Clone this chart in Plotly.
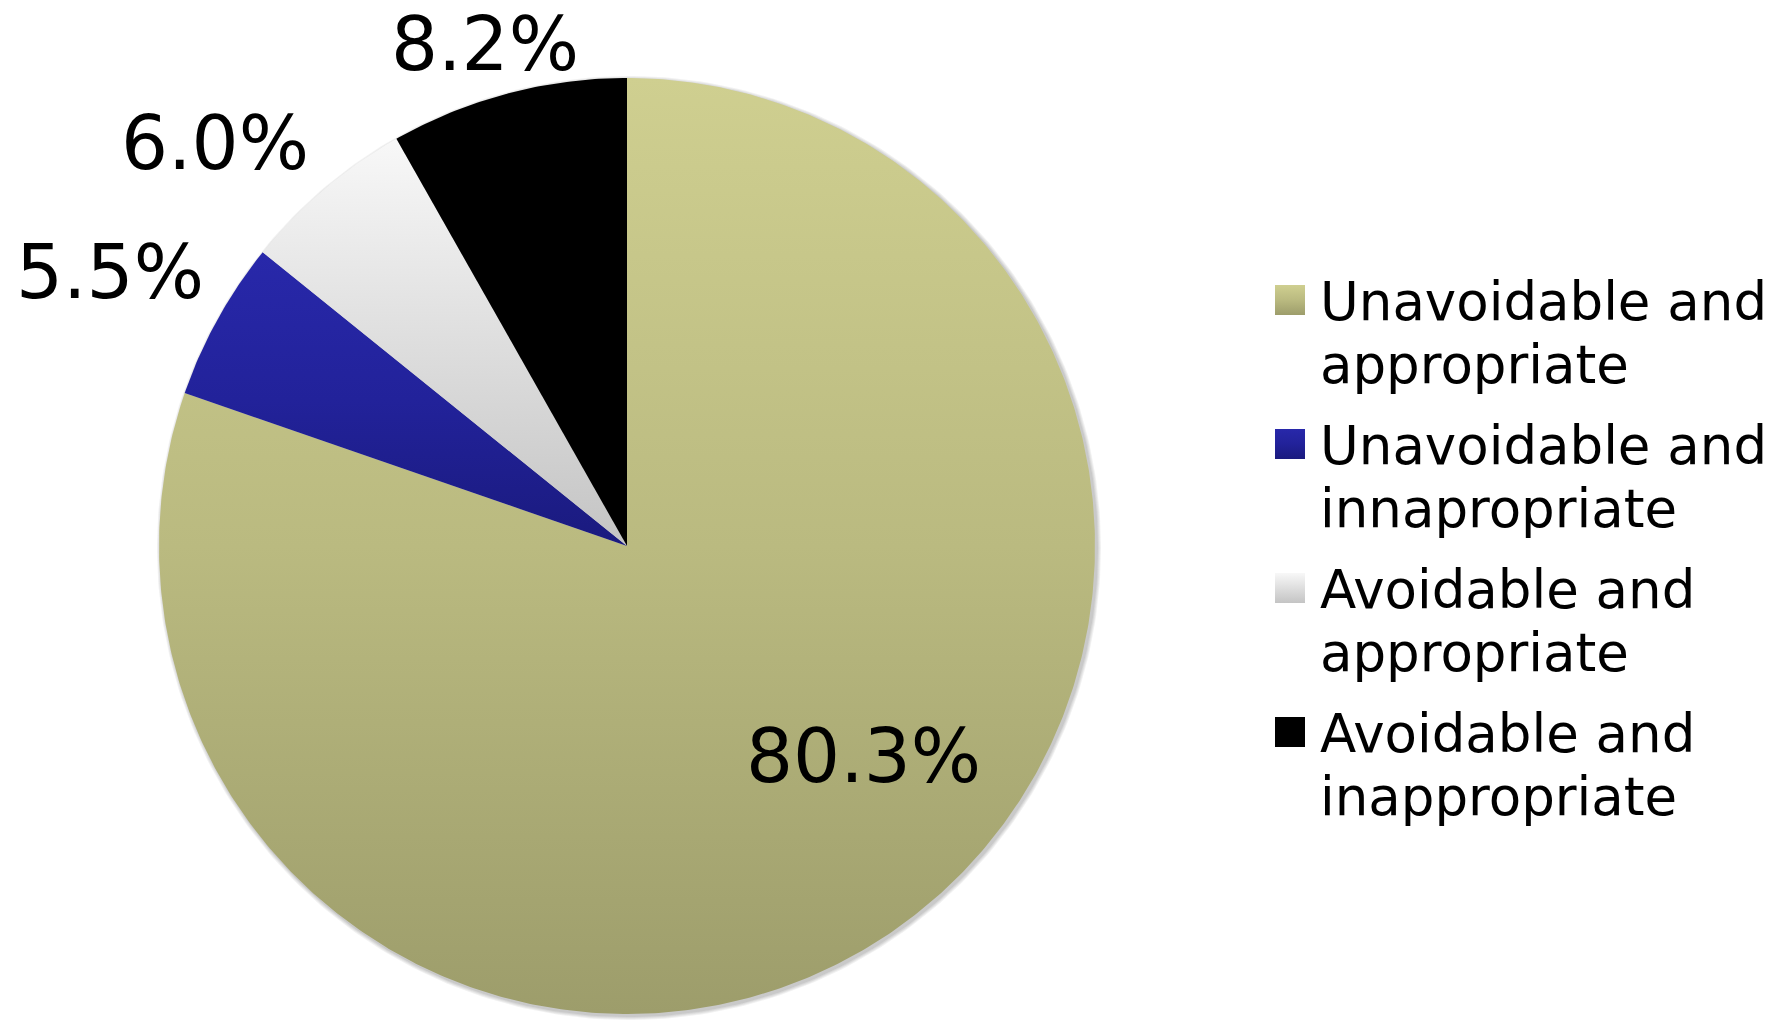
import numpy as np
import plotly.graph_objects as go

# ---- data -------------------------------------------------------------
categories = [
    "Unavoidable and appropriate",
    "Unavoidable and innapropriate",
    "Avoidable and appropriate",
    "Avoidable and inappropriate",
]
legend_lines = [
    ("Unavoidable and", "appropriate"),
    ("Unavoidable and", "innapropriate"),
    ("Avoidable and", "appropriate"),
    ("Avoidable and", "inappropriate"),
]
shares = [80.3, 5.5, 6.0, 8.2]
value_labels = ["80.3%", "5.5%", "6.0%", "8.2%"]

# ---- styling ------------------------------------------------------------
W, H = 1783, 1021
CX, CY, R = 627.0, 475.0, 468.0          # pie centre / radius (pixel units, y up)
FONT = "DejaVu Sans"

# vertical gradient per slice: (bottom, middle, top)
slice_gradients = [
    ("#9d9d6b", "#baba80", "#cfcf90"),
    ("#1a1a7e", "#22229a", "#2828aa"),
    ("#c4c4c4", "#dedede", "#f8f8f8"),
    ("#000000", "#000000", "#000000"),
]
label_inside = [True, False, False, False]
label_nudge = [(68, 26), (-14, -4), (-48, -26), (-6, -13)]
LABEL_SIZE = 74

# legend block (pixel units measured from the top-left corner)
LEG_SW_X = 1275
LEG_TOP = 285
LEG_STEP = 144
LEG_SW = 30
LEG_TEXT_X = 1318
LEG_BASE1 = 35       # first-line baseline below swatch top
LEG_LINE = 63        # line spacing
LEG_FONT = 53

fig = go.Figure()

# soft drop shadow behind the pie
theta = np.linspace(0, 2 * np.pi, 400)
for k, op in enumerate([0.10, 0.10, 0.12, 0.15]):
    rr = R + 4 - k
    fig.add_trace(go.Scatter(
        x=CX + 2 + rr * np.cos(theta), y=CY - 2 + rr * np.sin(theta),
        mode="lines", fill="toself", line=dict(width=0),
        fillcolor=f"rgba(120,120,120,{op})",
        hoverinfo="skip", showlegend=False,
    ))

# wedges, clockwise from 12 o'clock
total = float(sum(shares))
cum = np.concatenate([[0.0], np.cumsum(shares)]) / total
annotations = []
for i, name in enumerate(categories):
    a0 = np.pi / 2 - 2 * np.pi * cum[i]
    a1 = np.pi / 2 - 2 * np.pi * cum[i + 1]
    n = max(int(abs(a1 - a0) * 120), 8)
    arc = np.linspace(a0, a1, n)
    xs = np.concatenate([[CX], CX + R * np.cos(arc), [CX]])
    ys = np.concatenate([[CY], CY + R * np.sin(arc), [CY]])
    b, m, t = slice_gradients[i]
    fig.add_trace(go.Scatter(
        x=xs, y=ys, mode="lines", fill="toself",
        line=dict(width=0, color=t),
        fillgradient=dict(type="vertical",
                          colorscale=[[0, b], [0.5, m], [1, t]]),
        name=name, hoverinfo="name", showlegend=False,
    ))

    # value label
    mid = (a0 + a1) / 2
    ux, uy = np.cos(mid), np.sin(mid)
    if label_inside[i]:
        rad = 0.62 * R
    else:
        half_w = 72 * 2.54 / 2
        support = half_w * abs(ux) + 30 * abs(uy)
        rad = R + 12 + support
    dx, dy = label_nudge[i]
    annotations.append(dict(
        x=CX + rad * ux + dx, y=CY + rad * uy + dy,
        xref="x", yref="y", text=value_labels[i], showarrow=False,
        xanchor="center", yanchor="middle",
        font=dict(family=FONT, size=LABEL_SIZE, color="black"),
    ))

# legend: gradient swatches plus two-line captions
for i, name in enumerate(categories):
    b, m, t = slice_gradients[i]
    top = LEG_TOP + i * LEG_STEP
    sx = [LEG_SW_X, LEG_SW_X + LEG_SW, LEG_SW_X + LEG_SW, LEG_SW_X, LEG_SW_X]
    sy = [H - top - LEG_SW, H - top - LEG_SW, H - top, H - top, H - top - LEG_SW]
    fig.add_trace(go.Scatter(
        x=sx, y=sy, mode="lines", fill="toself",
        line=dict(width=0, color=t),
        fillgradient=dict(type="vertical",
                          colorscale=[[0, b], [0.5, m], [1, t]]),
        name=name, hoverinfo="name", showlegend=False,
    ))
    for j, line in enumerate(legend_lines[i]):
        baseline = top + LEG_BASE1 + j * LEG_LINE
        annotations.append(dict(
            x=LEG_TEXT_X, y=H - (baseline - 0.35 * LEG_FONT),
            xref="x", yref="y", text=line, showarrow=False,
            xanchor="left", yanchor="middle",
            font=dict(family=FONT, size=LEG_FONT, color="black"),
        ))

fig.update_layout(
    width=W, height=H,
    margin=dict(l=0, r=0, t=0, b=0),
    paper_bgcolor="white", plot_bgcolor="white",
    xaxis=dict(range=[0, W], visible=False, fixedrange=True),
    yaxis=dict(range=[0, H], visible=False, fixedrange=True),
    showlegend=False,
    annotations=annotations,
)

fig.write_html("out.html")
